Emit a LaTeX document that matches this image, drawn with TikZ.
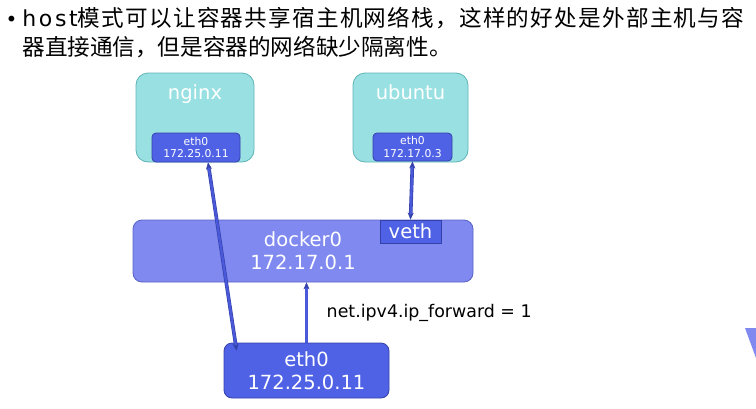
\documentclass[tikz,border=0pt]{standalone}
\usepackage{fontspec}
\setmainfont{DejaVu Sans}
\newfontfamily\cjk{Noto Sans CJK SC}
\newfontfamily\cjkwide[LetterSpace=5.5]{Noto Sans CJK SC}
\newfontfamily\spaced[LetterSpace=12]{DejaVu Sans}
\usetikzlibrary{arrows.meta, positioning, calc}
\definecolor{cteal}{HTML}{99E0E2}
\definecolor{ctealdark}{HTML}{5EB3B5}
\definecolor{cblue}{HTML}{4F62E6}
\definecolor{cbluedark}{HTML}{3341A8}
\definecolor{cbridge}{HTML}{7F89F0}
\definecolor{cbridgedark}{HTML}{5A62C4}
\definecolor{clink}{HTML}{4A58DA}
\tikzset{
  every picture/.style={line width=0.8pt},
  container/.style={draw=ctealdark, fill=cteal, rounded corners=12pt, minimum width=118pt, minimum height=89pt},
  nic/.style={draw=cbluedark, fill=cblue, text=white, rounded corners=#1, align=center, inner sep=0pt},
  nic/.default=4pt,
  bridge/.style={draw=cbridgedark, fill=cbridge, text=white, rounded corners=9pt, align=center, minimum width=340pt, minimum height=62pt},
  big/.style={font=\fontsize{19.5}{23}\selectfont, text=white},
  small/.style={font=\fontsize{10.8}{12.5}\selectfont},
  headline/.style={anchor=base west, inner sep=0pt, font=\cjk\fontsize{22.6}{29}\selectfont},
  link/.style={{Stealth[length=7pt,width=6pt]}-{Stealth[length=7pt,width=6pt]}, draw=cbluedark, double=clink, double distance=2.4pt, line width=0.6pt},
  uplink/.style={-{Stealth[length=7pt,width=6pt]}, draw=cbluedark, double=clink, double distance=2.4pt, line width=0.6pt},
}
\begin{document}
\begin{tikzpicture}[x=1pt, y=-1pt]
  \useasboundingbox (0,0) rectangle (756,408);
  % heading text
  \node[anchor=base west, font=\fontsize{20}{29}\selectfont] (bullet) at (2,26) {•};
  \node[headline] (head1) at (22,26) {{\spaced\fontsize{22}{29}\selectfont host}{\cjkwide 模式可以让容器共享宿主机网络栈，这样的好处是外部主机与容}};
  \node[headline] (head2) at (22,55) {器直接通信，但是容器的网络缺少隔离性。};

  % containers
  \node[container] (nginx) at (195,117.5) {};
  \node[big, below=8pt of nginx.north] (nginxtxt) {nginx};
  \node[nic, small, minimum width=88pt, minimum height=29pt] (nginxeth) at (196,147.5) {eth0\\172.25.0.11};
  \node[container, minimum width=115pt] (ubuntu) at (410.5,117.5) {};
  \node[big, below=8pt of ubuntu.north] (ubuntutxt) {ubuntu};
  \node[nic, small, minimum width=79pt, minimum height=28pt] (ubuntueth) at (412.5,147) {eth0\\172.17.0.3};

  % bridge and host nic
  \node[bridge, big] (docker) at (303,251) {docker0\\172.17.0.1};
  \node[nic=0pt, big, minimum width=61pt, minimum height=23pt] (veth) at (410.5,231.5) {veth};
  \node[nic=8pt, big, minimum width=165pt, minimum height=55pt] (hosteth) at (306.5,370.5) {eth0\\172.25.0.11};
  \node[anchor=west, font=\fontsize{17.4}{20}\selectfont] (fwd) at (323,313) {net.ipv4.ip\_forward = 1};

  % links
  \draw[link] ($(nginxeth.south)+(12,0)$) -- ($(hosteth.north west)+(13,8)$);
  \draw[link] (ubuntueth.south) -- (veth.north);
  \draw[uplink] (hosteth.north) -- (hosteth.north |- docker.south);

  % shape cut by the right edge
  \fill[cbridge] (745,328) -- (756,328) -- (756,358) -- cycle;
\end{tikzpicture}
\end{document}
